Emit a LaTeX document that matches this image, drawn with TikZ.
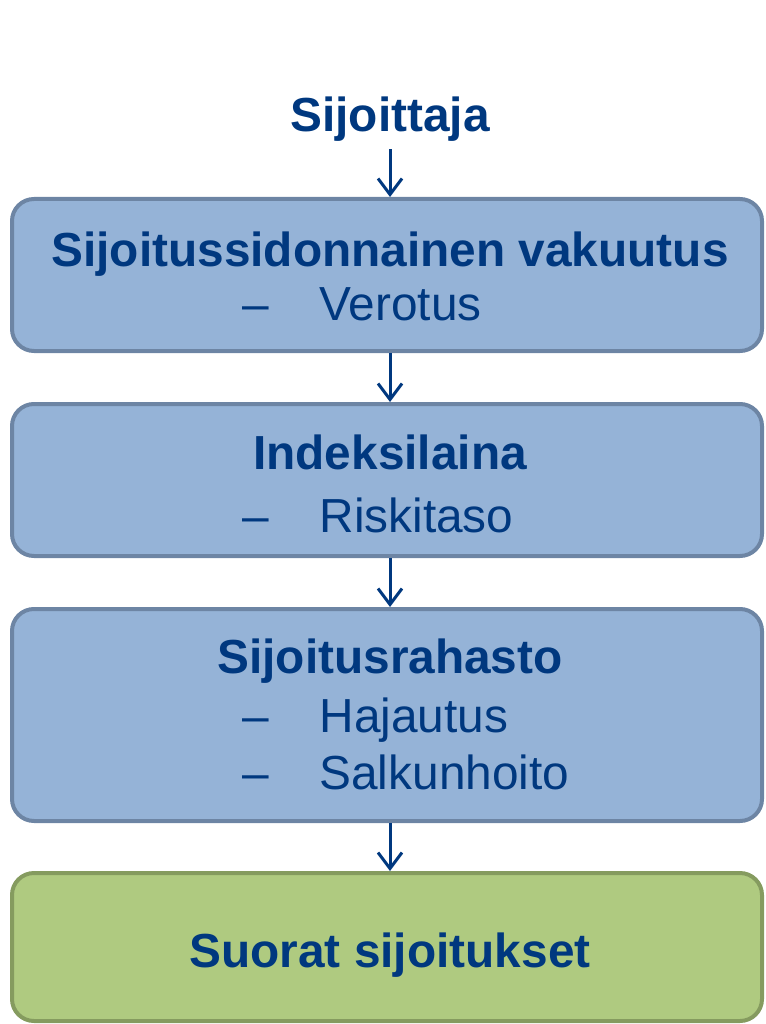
\documentclass[tikz,border=0pt]{standalone}
\usepackage{fontspec}
\setmainfont{Liberation Sans}
\usepackage{tikz}
\usetikzlibrary{positioning,arrows.meta}

\definecolor{textblue}{HTML}{00387F}
\definecolor{boxblue}{HTML}{95B3D7}
\definecolor{lineblue}{HTML}{6D85A4}
\definecolor{boxgreen}{HTML}{AFCA80}
\definecolor{linegreen}{HTML}{859B5F}

\tikzset{
	every box/.style={rectangle, rounded corners=22pt, line width=4pt,
		minimum width=750pt, inner sep=0pt},
	blue box/.style={every box, draw=lineblue, fill=boxblue},
	green box/.style={every box, draw=linegreen, fill=boxgreen},
	head/.style={anchor=base, text=textblue, font=\fontsize{47.8}{56}\selectfont\bfseries},
	item/.style={anchor=base west, text=textblue, font=\fontsize{47.8}{56}\selectfont},
	bullet/.style={anchor=base, text=textblue, font=\fontsize{47.8}{56}\selectfont},
	flow/.style={-{Straight Barb[length=16pt,width=24pt,line width=3pt]}, line width=3pt, draw=textblue}
}

\begin{document}
\begin{tikzpicture}[x=1pt, y=-1pt]
		
		\useasboundingbox (0,0) rectangle (765,1024);
		
		% boxes
		\node [blue box, minimum height=152pt] (vakuutus) at (387,275) {};
		\node [blue box, minimum height=152pt] (indeksi) at (387,480) {};
		\node [blue box, minimum height=212pt] (rahasto) at (387,715) {};
		\node [green box, minimum height=148pt] (suorat) at (387,947) {};
		
		% texts
		\node [head] (sijoittaja) at (390,132) {Sijoittaja};
		
		\node [head] (vakuutus-t) at (390,266) {Sijoitussidonnainen vakuutus};
		\node [bullet] (vakuutus-d) at (256,320) {--};
		\node [item] (vakuutus-1) at (316,320) {Verotus};
		
		\node [head] (indeksi-t) at (390,469) {Indeksilaina};
		\node [bullet] (indeksi-d) at (256,532) {--};
		\node [item] (indeksi-1) at (316,532) {Riskitaso};
		
		\node [head] (rahasto-t) at (390,673) {Sijoitusrahasto};
		\node [bullet] (rahasto-d1) at (256,732) {--};
		\node [item] (rahasto-1) at (316,732) {Hajautus};
		\node [bullet] (rahasto-d2) at (256,789) {--};
		\node [item] (rahasto-2) at (316,789) {Salkunhoito};
		
		\node [head] (suorat-t) at (390,967) {Suorat sijoitukset};
		
		% arrows
		\draw [flow] (sijoittaja.south) ++(0,4) -- (sijoittaja.south |- vakuutus.north);
		\draw [flow] (sijoittaja.south |- vakuutus.south) -- (sijoittaja.south |- indeksi.north);
		\draw [flow] (sijoittaja.south |- indeksi.south) -- (sijoittaja.south |- rahasto.north);
		\draw [flow] (sijoittaja.south |- rahasto.south) -- (sijoittaja.south |- suorat.north);

		\end{tikzpicture}
\end{document}
